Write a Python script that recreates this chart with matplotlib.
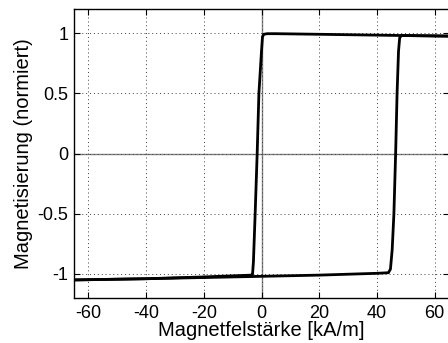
import matplotlib
matplotlib.use("Agg")
import matplotlib.pyplot as plt

plt.rcParams['font.family'] = ['Liberation Sans', 'DejaVu Sans']

# Descending branch (from +H to -H)
H_down = [65, 48, 20, 5, 2, 0.8, 0.35, 0.0, -0.9, -1.5, -2.2, -2.8, -3.1, -3.4, -20, -40, -65]
M_down = [0.975, 0.98, 0.99, 0.995, 0.995, 0.99, 0.97, 0.85, 0.5, 0.0, -0.5, -0.9, -1.0, -1.01, -1.025, -1.04, -1.05]
# Ascending branch (from -H to +H)
H_up = [-65, -40, -20, 0, 20, 40, 44, 44.7, 45.3, 45.9, 46.5, 47.0, 47.5, 47.9, 48.5, 55, 65]
M_up = [-1.05, -1.04, -1.03, -1.02, -1.01, -0.995, -0.99, -0.96, -0.8, -0.5, 0.0, 0.5, 0.85, 0.96, 0.98, 0.978, 0.975]

xticks = [-60, -40, -20, 0, 20, 40, 60]
yticks = [-1, -0.5, 0, 0.5, 1]
ytick_labels = ['-1', '-0.5', '0', '0.5', '1']

fig = plt.figure(figsize=(4.48, 3.43), dpi=100)
ax = fig.add_axes([74/448, 45/343, 375/448, 289/343])

ax.axhline(0, color='#808080', lw=1, zorder=1)
ax.axvline(0, color='#808080', lw=1, zorder=1)
ax.plot(H_down, M_down, color='black', lw=2, zorder=3)
ax.plot(H_up, M_up, color='black', lw=2, zorder=3)

ax.set_xlim(-65, 65)
ax.set_ylim(-1.2, 1.2)
ax.set_xticks(xticks)
ax.set_xticklabels([str(t) for t in xticks])
ax.set_yticks(yticks)
ax.set_yticklabels(ytick_labels)
ax.grid(True, linestyle=(0, (1, 3)), color='#404040', lw=0.7)
ax.tick_params(direction='in', top=True, right=True, labelsize=13, length=4)
ax.tick_params(axis='x', pad=5)
ax.tick_params(axis='y', pad=4)
for s in ax.spines.values():
    s.set_linewidth(1)
ax.set_xlabel('Magnetfelstärke [kA/m]', fontsize=14.5, labelpad=-1)
ax.set_ylabel('Magnetisierung (normiert)', fontsize=14.5, labelpad=3)

fig.savefig('out.png', dpi=100)
